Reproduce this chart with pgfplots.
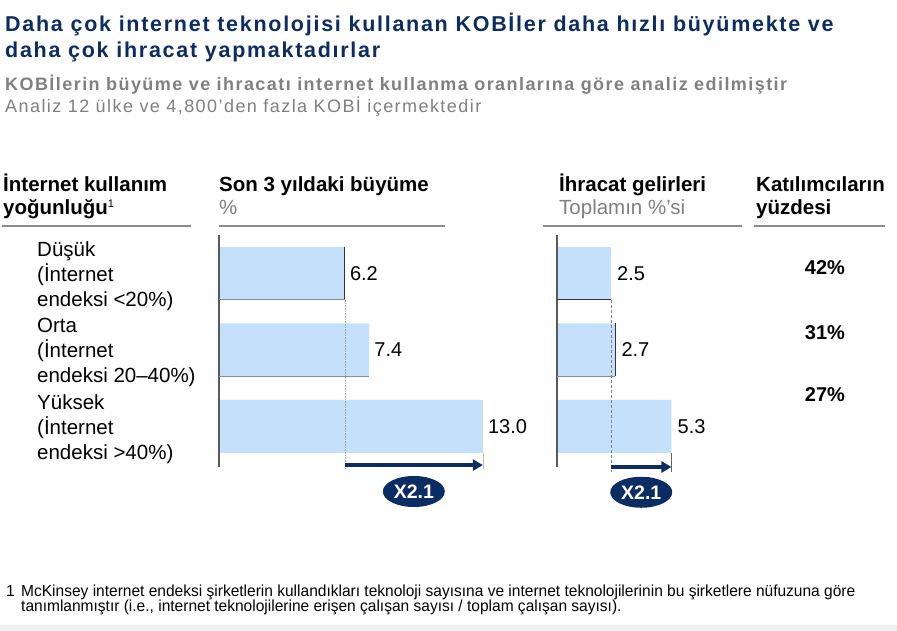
\documentclass[border=0pt]{standalone}
\usepackage{pgfplots}
\pgfplotsset{compat=1.18}
\usepackage{fontspec}
\setmainfont{Liberation Sans}
\newfontfamily\spacedfont[LetterSpace=8]{Liberation Sans}
\newfontfamily\footfont[FakeStretch=0.97]{Liberation Sans}
\usetikzlibrary{arrows.meta,shapes.geometric}
\definecolor{barblue}{RGB}{197,224,250}
\definecolor{navy}{RGB}{12,45,100}
\definecolor{txtgray}{RGB}{128,128,128}
\definecolor{rulegray}{RGB}{140,140,140}
\definecolor{axgray}{RGB}{90,90,90}
\begin{document}
\begin{tikzpicture}[x=1pt,y=1pt]
\fill[white] (0,0) rectangle (897,631);
\fill[black!6] (0,0) rectangle (897,6);
% titles
\node[anchor=base west,inner sep=0,text=navy,font=\spacedfont\fontsize{21.5}{26}\selectfont\bfseries] at (5,599) {Daha çok internet teknolojisi kullanan KOBİler daha hızlı büyümekte ve};
\node[anchor=base west,inner sep=0,text=navy,font=\spacedfont\fontsize{21.5}{26}\selectfont\bfseries] at (5,573) {daha çok ihracat yapmaktadırlar};
\node[anchor=base west,inner sep=0,text=txtgray,font=\spacedfont\fontsize{18}{22}\selectfont\bfseries] at (5,540) {KOBİlerin büyüme ve ihracatı internet kullanma oranlarına göre analiz edilmiştir};
\node[anchor=base west,inner sep=0,text=txtgray,font=\spacedfont\fontsize{18}{22}\selectfont] at (5,518) {Analiz 12 ülke ve 4,800’den fazla KOBİ içermektedir};
% headers
\begin{scope}[every node/.style={anchor=base west,inner sep=0,font=\fontsize{20.5}{24}\selectfont\bfseries}]
\node at (3,439) {İnternet kullanım};
\node at (3,416) {yoğunluğu\raisebox{7pt}{\fontsize{11}{12}\selectfont\mdseries 1}};
\node at (219,439) {Son 3 yıldaki büyüme};
\node[text=txtgray,font=\fontsize{20.5}{24}\selectfont] at (219,416) {\%};
\node at (559,439) {İhracat gelirleri};
\node[text=txtgray,font=\fontsize{20.5}{24}\selectfont] at (559,416) {Toplamın \%’si};
\node at (756,439) {Katılımcıların};
\node at (756,416) {yüzdesi};
\end{scope}
\draw[rulegray,line width=1.3pt] (2,405) -- (191,405);
\draw[rulegray,line width=1.3pt] (219,405) -- (445,405);
\draw[rulegray,line width=1.3pt] (543,405) -- (742,405);
\draw[rulegray,line width=1.3pt] (754,405) -- (885,405);
% category labels
\begin{scope}[every node/.style={anchor=base west,inner sep=0,font=\fontsize{20.5}{24}\selectfont}]
\node at (37,374) {Düşük};
\node at (37,349) {(İnternet};
\node at (37,324) {endeksi <20\%)};
\node at (37,298) {Orta};
\node at (37,273) {(İnternet};
\node at (37,248) {endeksi 20–40\%)};
\node at (37,221) {Yüksek};
\node at (37,196) {(İnternet};
\node at (37,171) {endeksi >40\%)};
\end{scope}
% participants
\begin{scope}[every node/.style={anchor=center,inner sep=0,font=\fontsize{20}{24}\selectfont\bfseries}]
\node at (825,363) {42\%};
\node at (825,298) {31\%};
\node at (825,236) {27\%};
\end{scope}
% growth axis
\begin{axis}[at={(219pt,164pt)},anchor=south west,scale only axis,width=274pt,height=232pt,
  xmin=0,xmax=13.5,ymin=0.5,ymax=3.53,y dir=reverse,hide axis,clip=false,xbar,bar width=53pt]
\addplot[fill=barblue,draw=none,point meta=explicit symbolic,nodes near coords,
  every node near coord/.append style={anchor=west,inner sep=0,xshift=5pt,font=\fontsize{20}{24}\selectfont}]
  coordinates {(6.2,1) [6.2] (7.4,2) [7.4] (13.0,3) [13.0]};
\draw[axgray,line width=1.5pt] (axis cs:0,0.5) -- (axis cs:0,3.53);
\draw[black!80,line width=0.8pt] (axis cs:6.2,0.654) -- (axis cs:6.2,1.346);
\draw[black!45,line width=0.8pt] (axis cs:0,1.346) -- (axis cs:6.2,1.346);
\draw[black!45,line width=0.8pt] (axis cs:0,2.346) -- (axis cs:7.4,2.346);
\draw[black!35,line width=0.6pt,densely dotted] (axis cs:6.2,1.346) -- (axis cs:6.2,3.56);
\draw[black!25,line width=0.6pt] (axis cs:13.0,3.35) -- (axis cs:13.0,3.56);
\draw[navy,line width=3.2pt,-{Triangle[length=10pt,width=11pt]}] (axis cs:6.2,3.505) -- (axis cs:13.0,3.505);
\node[ellipse,fill=navy,minimum width=62pt,minimum height=31pt,inner sep=0,text=white,font=\fontsize{19.5}{22}\selectfont\bfseries] at (axis cs:9.6,3.85) {X2.1};
\end{axis}
% export axis
\begin{axis}[at={(557pt,164pt)},anchor=south west,scale only axis,width=129.6pt,height=232pt,
  xmin=0,xmax=6,ymin=0.5,ymax=3.53,y dir=reverse,hide axis,clip=false,xbar,bar width=53pt]
\addplot[fill=barblue,draw=none,point meta=explicit symbolic,nodes near coords,
  every node near coord/.append style={anchor=west,inner sep=0,xshift=6pt,font=\fontsize{20}{24}\selectfont}]
  coordinates {(2.5,1) [2.5] (2.7,2) [2.7] (5.3,3) [5.3]};
\draw[axgray,line width=1.5pt] (axis cs:0,0.5) -- (axis cs:0,3.53);
\draw[black!80,line width=0.8pt] (axis cs:0,1.346) -- (axis cs:2.5,1.346);
\draw[black!80,line width=0.8pt] (axis cs:2.7,1.654) -- (axis cs:2.7,2.346);
\draw[black!45,line width=0.8pt] (axis cs:0,2.346) -- (axis cs:2.7,2.346);
\draw[black!50,line width=0.7pt,densely dashed] (axis cs:2.5,1.346) -- (axis cs:2.5,3.6);
\draw[black!60,line width=0.7pt] (axis cs:5.3,3.35) -- (axis cs:5.3,3.6);
\draw[navy,line width=3.2pt,-{Triangle[length=10pt,width=11pt]}] (axis cs:2.5,3.53) -- (axis cs:5.3,3.53);
\node[ellipse,fill=navy,minimum width=62pt,minimum height=31pt,inner sep=0,text=white,font=\fontsize{19.5}{22}\selectfont\bfseries] at (axis cs:3.9,3.86) {X2.1};
\end{axis}
% footnote
\node[anchor=base west,inner sep=0,font=\footfont\fontsize{16}{17}\selectfont] at (6,34) {1};
\node[anchor=base west,inner sep=0,font=\footfont\fontsize{16}{17}\selectfont] at (21,34) {McKinsey internet endeksi şirketlerin kullandıkları teknoloji sayısına ve internet teknolojilerinin bu şirketlere nüfuzuna göre};
\node[anchor=base west,inner sep=0,font=\footfont\fontsize{16}{17}\selectfont] at (21,19) {tanımlanmıştır (i.e., internet teknolojilerine erişen çalışan sayısı / toplam çalışan sayısı).};
\end{tikzpicture}
\end{document}
